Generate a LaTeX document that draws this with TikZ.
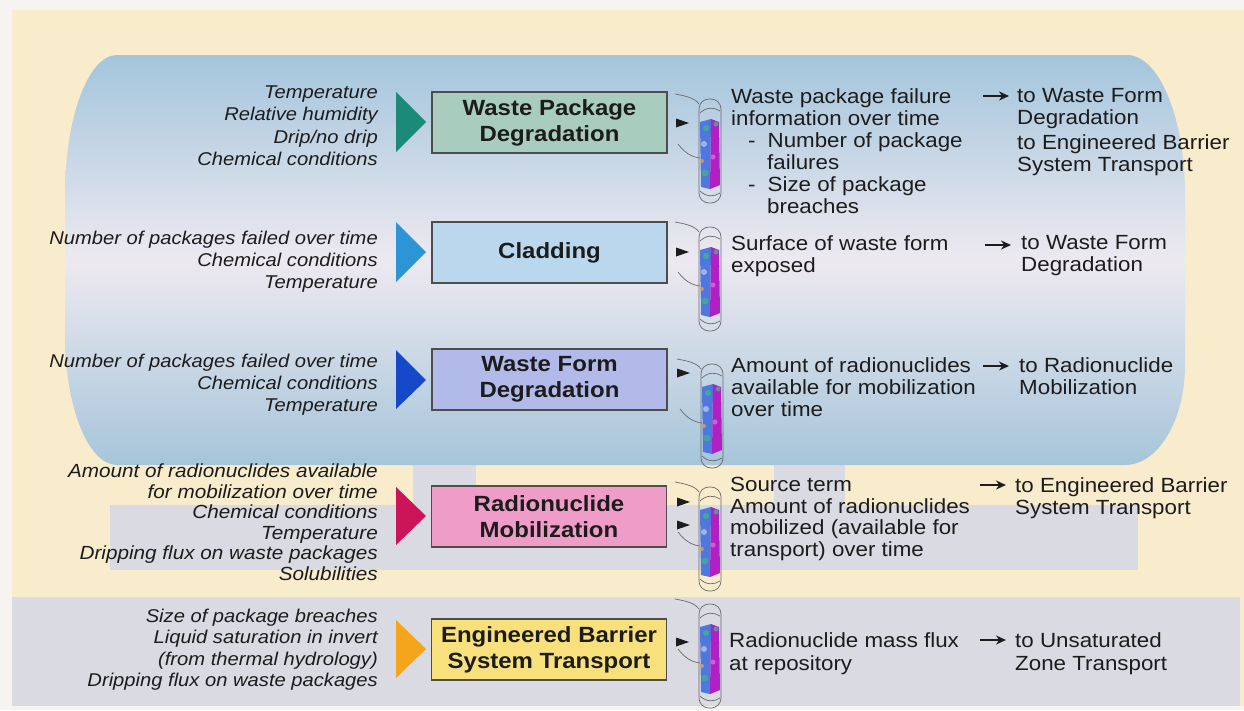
\documentclass[tikz,border=0pt]{standalone}
\usepackage{fontspec}
\setmainfont{Liberation Sans}[FakeStretch=1.09]
\usetikzlibrary{arrows.meta}

% palette
\definecolor{pagewhite}{HTML}{F7F3F0}
\definecolor{cream}{HTML}{F8ECCC}
\definecolor{tunnelgrey}{HTML}{D9DAE2}
\definecolor{drifttop}{HTML}{A3C5DC}
\definecolor{driftmid}{HTML}{EDE9F0}
\definecolor{driftbot}{HTML}{A6C5DA}
\definecolor{inkdark}{HTML}{1C1C1C}
\definecolor{boxline}{HTML}{4D4D4D}
\definecolor{wpfill}{HTML}{A8CCBD}
\definecolor{cladfill}{HTML}{BAD7EE}
\definecolor{wffill}{HTML}{B2BAEA}
\definecolor{rnfill}{HTML}{F09CC9}
\definecolor{ebsfill}{HTML}{F8E07C}
\definecolor{wptri}{HTML}{1B8A78}
\definecolor{cladtri}{HTML}{2D94D6}
\definecolor{wftri}{HTML}{1748C9}
\definecolor{rntri}{HTML}{CC1458}
\definecolor{ebstri}{HTML}{F4A51C}
\definecolor{canblue}{HTML}{4F78DE}
\definecolor{canmag}{HTML}{B020C4}
\definecolor{cangreen}{HTML}{3FB48A}
\definecolor{canorange}{HTML}{E0A050}
\definecolor{canline}{HTML}{6A6A6A}

\tikzset{
  process/.style={draw=boxline, line width=1.2pt, minimum width=235pt,
    minimum height=61pt, inner sep=0pt, align=center, text=inkdark,
    font=\fontsize{22}{26}\selectfont\bfseries},
  inputs/.style={anchor=north east, inner sep=0pt, align=right, text=inkdark,
    font=\fontsize{18.5}{22.3}\selectfont\itshape},
  outputs/.style={anchor=north west, inner sep=0pt, align=left, text=inkdark,
    font=\fontsize{20.5}{22}\selectfont},
  feed/.style={line width=2pt, draw=inkdark, -{Stealth[length=10pt,width=9pt]}},
  capline/.style={draw=canline, line width=0.7pt},
  pointer/.pic={\fill[inkdark] (-13,-4.5) -- (0,0) -- (-13,4.5) -- cycle;},
  canister/.pic={
    % leads running back toward the process box
    \draw[capline] (-35,-5) .. controls (-24,-3) and (-15,-1) .. (-11,5);
    \draw[capline] (-32,45) .. controls (-26,53) and (-19,58) .. (-10,59);
    % contour band on the waste package
    \fill[canblue] (-10,23) -- (1,20) -- (0,90) -- (-9,88) -- cycle;
    \fill[canmag] (1,20) -- (9,23) -- (10,86) -- (0,90) -- cycle;
    \fill[cangreen, opacity=0.8] (-4,29) circle (3);
    \fill[cangreen, opacity=0.8] (6,25) circle (2.5);
    \fill[canblue!55!white] (-6,45) circle (3);
    \fill[canorange, opacity=0.8] (-8,62) circle (2);
    \fill[cangreen!70!canblue] (-5,74) circle (3.5);
    \fill[canmag!70!white] (3,58) circle (2.5);
    % shell of the package
    \draw[capline, rounded corners=10] (-11,0) rectangle (11,104);
    \draw[capline] (-10,14) .. controls (-4,8) and (4,8) .. (10,12);
    \draw[capline] (-10,92) .. controls (-4,98) and (4,98) .. (10,94);
  },
}

\begin{document}
\begin{tikzpicture}[x=1pt, y=-1pt]
\useasboundingbox (0,0) rectangle (1244,710);

% backdrop
\fill[pagewhite] (0,0) rectangle (1244,710);
\fill[cream] (12,10) rectangle (1244,706);

% drift outlines behind the lower rows
\fill[tunnelgrey] (110,505) rectangle (1138,570);
\fill[tunnelgrey] (413,462) rectangle (476,505);
\fill[tunnelgrey] (774,462) rectangle (845,505);
\fill[tunnelgrey] (12,597) rectangle (1240,706);

% emplacement drift
\shade[top color=drifttop, bottom color=driftbot, middle color=driftmid]
  (117,55) -- (1127,55)
  arc[start angle=270, end angle=360, x radius=58, y radius=140]
  -- (1185,365)
  arc[start angle=0, end angle=90, x radius=60, y radius=100]
  -- (117,465)
  arc[start angle=90, end angle=180, x radius=52, y radius=130]
  -- (65,195)
  arc[start angle=180, end angle=270, x radius=52, y radius=140]
  -- cycle;

% ---------- Waste Package Degradation ----------
\node[inputs] (wpin) at (378,85.5)
  {Temperature\\Relative humidity\\Drip/no drip\\Chemical conditions};
\fill[wptri] (396,92) -- (426,122) -- (396,152) -- cycle;
\node[process, fill=wpfill] (wp) at (549.5,122.5) {Waste Package\\Degradation};
\pic at (689,123) {pointer};
\pic at (710,99) {canister};
\node[outputs] (wpout) at (731,88) {Waste package failure\\information over time\\
  \hspace*{17pt}-\hspace*{12pt}Number of package\\\hspace*{36pt}failures\\
  \hspace*{17pt}-\hspace*{12pt}Size of package\\\hspace*{36pt}breaches};
\coordinate (wpf1) at (983,96);
\coordinate (wpf2) at (1009,96);
\draw[feed] (wpf1) -- (wpf2);
\node[outputs] (wpto) at (1017,88)
  {to Waste Form\\Degradation\\[3pt]to Engineered Barrier\\System Transport};

% ---------- Cladding ----------
\node[inputs] (clin) at (378,230.5)
  {Number of packages failed over time\\Chemical conditions\\Temperature};
\fill[cladtri] (396,222) -- (426,252) -- (396,282) -- cycle;
\node[process, fill=cladfill] (cl) at (549.5,252.5) {Cladding};
\pic at (689,252) {pointer};
\pic at (710,227) {canister};
\node[outputs] (clout) at (731,235) {Surface of waste form\\exposed};
\coordinate (clf1) at (985,245);
\coordinate (clf2) at (1011,245);
\draw[feed] (clf1) -- (clf2);
\node[outputs] (clto) at (1021,235) {to Waste Form\\Degradation};

% ---------- Waste Form Degradation ----------
\node[inputs] (wfin) at (378,353.5)
  {Number of packages failed over time\\Chemical conditions\\Temperature};
\fill[wftri] (396,350) -- (426,380) -- (396,409) -- cycle;
\node[process, fill=wffill] (wf) at (549.5,379.5) {Waste Form\\Degradation};
\pic at (690,373) {pointer};
\pic at (712,364) {canister};
\node[outputs] (wfout) at (731,357)
  {Amount of radionuclides\\available for mobilization\\over time};
\coordinate (wff1) at (983,366);
\coordinate (wff2) at (1009,366);
\draw[feed] (wff1) -- (wff2);
\node[outputs] (wfto) at (1019,357) {to Radionuclide\\Mobilization};

% ---------- Radionuclide Mobilization ----------
\node[inputs, font=\fontsize{19}{20.5}\selectfont\itshape] (rnin) at (378,464)
  {Amount of radionuclides available\\for mobilization over time\\
   Chemical conditions\hspace*{6pt}\\Temperature\\Dripping flux on waste packages\\
   Solubilities};
\fill[rntri] (396,487) -- (426,516) -- (396,545) -- cycle;
\node[process, fill=rnfill] (rn) at (549,516.5) {Radionuclide\\Mobilization};
\pic at (690,502) {pointer};
\pic at (690,525) {pointer};
\pic at (710,487) {canister};
\node[outputs, font=\fontsize{20.5}{21.5}\selectfont] (rnout) at (730,477)
  {Source term\\Amount of radionuclides\\mobilized (available for\\transport) over time};
\coordinate (rnf1) at (980,485);
\coordinate (rnf2) at (1006,485);
\draw[feed] (rnf1) -- (rnf2);
\node[outputs] (rnto) at (1015,477) {to Engineered Barrier\\System Transport};

% ---------- Engineered Barrier System Transport ----------
\node[inputs, font=\fontsize{18.5}{21.5}\selectfont\itshape] (ebin) at (378,608.5)
  {Size of package breaches\\Liquid saturation in invert\hspace*{6pt}\\
   (from thermal hydrology)\\Dripping flux on waste packages};
\fill[ebstri] (396,620) -- (426,649) -- (396,678) -- cycle;
\node[process, fill=ebsfill] (eb) at (549,649.5) {Engineered Barrier\\System Transport};
\pic at (689,642) {pointer};
\pic at (710,604) {canister};
\node[outputs, font=\fontsize{20.5}{23}\selectfont] (ebout) at (729,632)
  {Radionuclide mass flux\\at repository};
\coordinate (ebf1) at (980,640);
\coordinate (ebf2) at (1006,640);
\draw[feed] (ebf1) -- (ebf2);
\node[outputs, font=\fontsize{20.5}{23}\selectfont] (ebto) at (1015,632)
  {to Unsaturated\\Zone Transport};

\end{tikzpicture}
\end{document}
